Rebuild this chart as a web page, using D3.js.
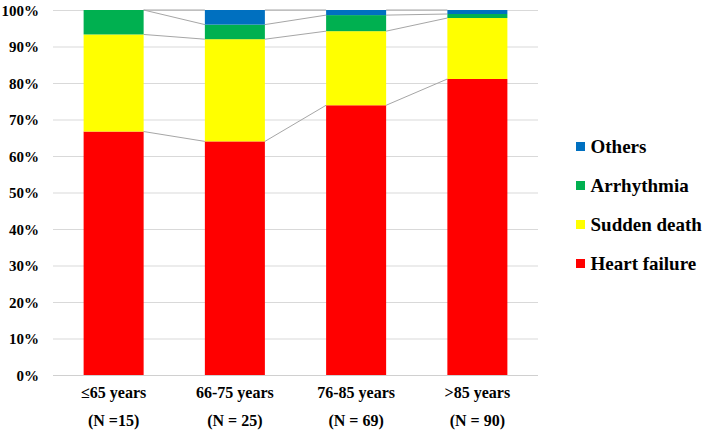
<!DOCTYPE html>
<html><head><meta charset="utf-8">
<script src="https://cdn.jsdelivr.net/npm/d3@7"></script>
<style>body{margin:0;background:#fff}svg{display:block}</style>
</head><body>
<svg id="c" width="709" height="431"></svg>
<script>
const categories = ["\u226465 years", "66-75 years", "76-85 years", ">85 years"];
const groupSizes = ["(N =15)", "(N = 25)", "(N = 69)", "(N = 90)"];
const seriesNames = ["Heart failure", "Sudden death", "Arrhythmia", "Others"];
const heartFailure = [66.7, 64.0, 73.9, 81.1];
const suddenDeath = [26.6, 28.0, 20.3, 16.7];
const arrhythmia = [6.7, 4.0, 4.4, 1.1];
const others = [0.0, 4.0, 1.4, 1.1];
const yTicks = [0, 10, 20, 30, 40, 50, 60, 70, 80, 90, 100];
const colors = ["#ff0000", "#ffff00", "#00b050", "#0070c0"];

(function () {
const seriesVals = [heartFailure, suddenDeath, arrhythmia, others];
const rows = categories.map((c, i) => {
  const r = {cat: c};
  seriesNames.forEach((s, j) => r[s] = seriesVals[j][i]);
  return r;
});
const stacked = d3.stack().keys(seriesNames)(rows);

const svg = d3.select("#c");
const mLeft = 53, mRight = 538, mTop = 10, mBottom = 375;
const x = d3.scaleBand().domain(categories).range([mLeft, mRight]).paddingInner(0.505).paddingOuter(0.2525);
const y = d3.scaleLinear().domain([0, 100]).range([mBottom, mTop]);
const txt = (sel, size) => sel.attr("font-family", "Liberation Serif").attr("font-weight", "bold").attr("font-size", size);

// gridlines
svg.append("g").selectAll("line").data(yTicks).join("line")
  .attr("x1", mLeft).attr("x2", mRight)
  .attr("y1", d => y(d) + 0.5).attr("y2", d => y(d) + 0.5)
  .attr("stroke", d => d === 0 ? "#d0d0d0" : "#d9d9d9").attr("stroke-width", 1);

// y labels
svg.append("g").selectAll("text").data(yTicks).join("text")
  .attr("x", 39).attr("y", d => y(d) + 5.5)
  .attr("text-anchor", "end")
  .call(txt, 15)
  .text(d => d + "%");

// series lines
const bw = x.bandwidth();
const lineG = svg.append("g");
stacked.forEach(layer => {
  for (let i = 0; i < categories.length - 1; i++) {
    lineG.append("line")
      .attr("x1", x(categories[i]) + bw).attr("y1", y(layer[i][1]))
      .attr("x2", x(categories[i + 1])).attr("y2", y(layer[i + 1][1]))
      .attr("stroke", "#a6a6a6").attr("stroke-width", 1);
  }
});

// bars
svg.append("g").selectAll("g").data(stacked).join("g")
  .attr("fill", (d, i) => colors[i])
  .selectAll("rect").data(d => d).join("rect")
  .attr("x", d => x(d.data.cat)).attr("width", bw)
  .attr("y", d => y(d[1])).attr("height", d => y(d[0]) - y(d[1]));

// x labels
const xl = svg.append("g");
categories.forEach((c, i) => {
  const cx = x(c) + bw / 2;
  xl.append("text").attr("x", cx).attr("y", 398).attr("text-anchor", "middle")
    .call(txt, 16).text(c);
  xl.append("text").attr("x", cx).attr("y", 426).attr("text-anchor", "middle")
    .call(txt, 16).text(groupSizes[i]);
});

// legend (reverse order)
const legendOrder = [3, 2, 1, 0];
const lg = svg.append("g");
legendOrder.forEach((si, k) => {
  const cy = 146.5 + k * 39;
  lg.append("rect").attr("x", 576).attr("y", cy - 4.5).attr("width", 9).attr("height", 9).attr("fill", colors[si]);
  lg.append("text").attr("x", 590.5).attr("y", cy + 6.5)
    .call(txt, 19).text(seriesNames[si]);
});
})();
</script>
</body></html>
